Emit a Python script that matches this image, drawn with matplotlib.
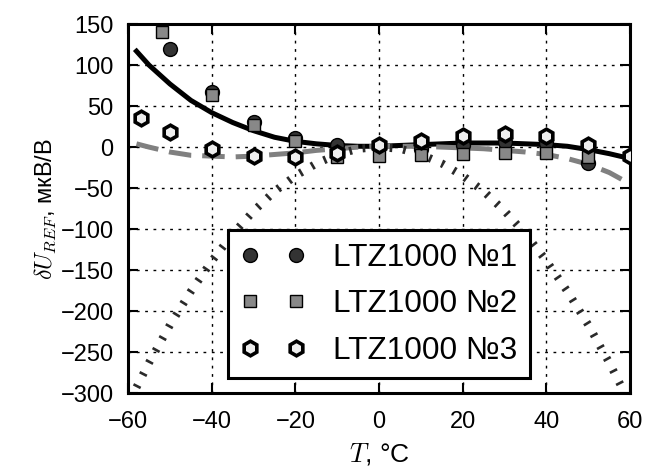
import numpy as np
import matplotlib
matplotlib.use("Agg")
import matplotlib.pyplot as plt

plt.rcParams['font.family'] = ['Liberation Sans', 'DejaVu Sans']
plt.rcParams['mathtext.fontset'] = 'cm'

# measured points
t1 = [-50, -40, -30, -20, -10, 0, 10, 20, 30, 40, 50]
u1 = [120, 67, 31, 11, 2, 0, -2, 3, 6, 5, -19]

t2 = [-52, -40, -30, -20, -10, 0, 10, 20, 30, 40, 50]
u2 = [140, 63, 27, 8, -12, -11, -10, -9, -7, -7, -12]

t3 = [-57, -50, -40, -30, -20, -10, 0, 10, 20, 30, 40, 50, 60]
u3 = [35, 18, -2, -11, -12, -7, 2, 8, 13, 16, 13, 2, -11]

# approximation curves
tc = [-58, -55, -50, -45, -40, -35, -30, -25, -20, -15, -10, -5, 0, 5, 10,
      15, 20, 25, 30, 35, 40, 45, 50, 55, 60]
fit1 = [117, 100, 77, 57, 42, 30, 20, 12, 7, 4, 2, 1, 1, 2, 3,
        4, 5, 5, 5, 4, 3, 1, -3, -8, -14]
fit3 = [4, 0, -6, -10, -11, -12, -11, -9, -7, -4, -2, 0, 1, 1, 1,
        0, -1, -2, -4, -6, -9, -14, -21, -31, -45]
fit2 = [-293, -263, -217, -176, -139, -106, -78, -54, -35, -20, -9, -2, 0, -2, -9,
        -20, -35, -54, -78, -106, -139, -176, -217, -263, -313]

fig = plt.figure(figsize=(6.47, 4.73), dpi=100)
ax = fig.add_axes([0.198, 0.169, 0.776, 0.780])

ax.plot(tc, fit1, color='black', lw=3.6, zorder=2)
ax.plot(tc, fit3, color='#808080', lw=3.6, dashes=(4.5, 2.2), zorder=2)
ax.plot(tc, fit2, color='#2a2a2a', lw=5.8, dashes=(0.33, 1.36), zorder=2)

ax.plot(t1, u1, 'o', ls='none', ms=10, mfc='#333333', mec='black', mew=1,
        label='LTZ1000 №1', zorder=3)
ax.plot(t2, u2, 's', ls='none', ms=9, mfc='#888888', mec='black', mew=1,
        label='LTZ1000 №2', zorder=4)
ax.plot(t3, u3, 'h', ls='none', ms=10.5, mfc='#eeeeee', mec='black', mew=2.6,
        label='LTZ1000 №3', zorder=5)

ax.set_xlim(-60, 60)
ax.set_ylim(-300, 150)
ax.set_xticks(np.arange(-60, 61, 20))
ax.set_yticks(np.arange(-300, 151, 50))
ax.grid(True, color='black', lw=1, linestyle=(0, (2, 4)))
ax.tick_params(direction='in', length=7, width=1.5, labelsize=17,
               top=True, right=True)
ax.tick_params(axis='x', pad=13)
ax.tick_params(axis='y', pad=10.5)
for s in ax.spines.values():
    s.set_linewidth(2.2)

ax.set_xlabel('$T$, °C', fontsize=19, labelpad=6)
ax.set_ylabel(r'$\delta U_{REF}$, мкВ/В', fontsize=17, labelpad=2)

leg = ax.legend(loc='lower center', numpoints=2, fontsize=22.7,
                fancybox=False, framealpha=1, edgecolor='black',
                labelspacing=0.52, handlelength=2.06, handletextpad=0.87,
                borderpad=0.4, borderaxespad=0, bbox_to_anchor=(0.5, 0.04))
leg.get_frame().set_linewidth(2.2)
leg.set_zorder(10)

fig.savefig('out.png', dpi=100)
